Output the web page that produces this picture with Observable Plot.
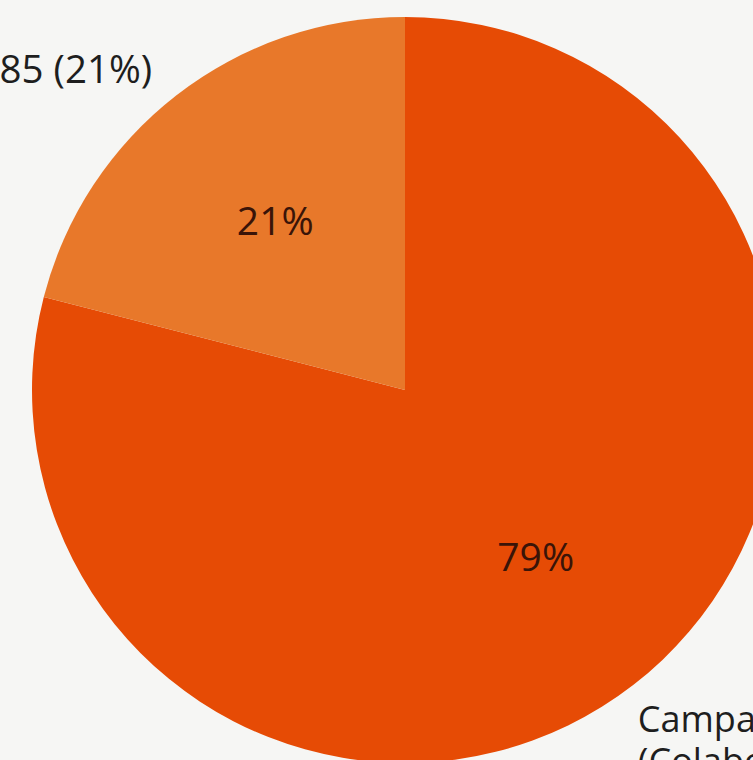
<!DOCTYPE html>
<html>
<head>
<meta charset="utf-8">
<script src="https://cdn.jsdelivr.net/npm/d3@7"></script>
<script src="https://cdn.jsdelivr.net/npm/@observablehq/plot@0.6"></script>
<style>
  html, body { margin: 0; padding: 0; background: #f6f6f4; overflow: hidden; }
  #chart { width: 753px; height: 760px; }
</style>
</head>
<body>
<div id="chart"></div>
<script>
// ---- data ----
const categories = ["Campaña (Colaboración)", "Otros"];
const counts = [320, 85];
const percentLabels = ["79%", "21%"];
const outerLabels = ["Campaña\n(Colaboración)", "85 (21%)"];
const colors = ["#e64b05", "#e8782a"];

// ---- derived table ----
const rows = categories.map((c, i) => ({
  category: c, count: counts[i], pct: percentLabels[i], outer: outerLabels[i], color: colors[i]
}));
const arcs = d3.pie().sort(null).value(d => d.count).startAngle(0).endAngle(2 * Math.PI)(rows);
const slices = arcs.map(a => {
  const mid = (a.startAngle + a.endAngle) / 2;
  return {
    ...a.data, startAngle: a.startAngle, endAngle: a.endAngle, mid,
    ix: 0.57 * Math.sin(mid), iy: 0.57 * Math.cos(mid),
    ox: 1.1 * Math.sin(mid), oy: 1.1 * Math.cos(mid)
  };
});

const font = "'Open Sans', 'Noto Sans', sans-serif";

// custom pie mark drawn through Plot's x/y scales
function pieMark(index, scales) {
  const cx = scales.x(0), cy = scales.y(0);
  const R = scales.x(1) - scales.x(0);
  const arc = d3.arc().innerRadius(0).outerRadius(R);
  const g = d3.create("svg:g").attr("transform", `translate(${cx},${cy})`);
  g.selectAll("path").data(slices).join("path")
    .attr("d", d => arc({startAngle: d.startAngle, endAngle: d.endAngle}))
    .attr("fill", d => d.color);
  return g.node();
}

const chart = Plot.plot({
  width: 753,
  height: 760,
  margin: 0,
  x: {domain: [-1, 1], range: [32, 778], axis: null},
  y: {domain: [-1, 1], range: [763, 17], axis: null},
  style: {background: "#f6f6f4", fontFamily: font, overflow: "hidden"},
  marks: [
    pieMark,
    Plot.text(slices, {
      x: "ix", y: "iy", text: "pct",
      fontSize: 39, fill: "#3a1408", fontFamily: font
    }),
    Plot.text(slices.filter(d => d.mid > Math.PI), {
      x: "ox", y: "oy", text: "outer",
      textAnchor: "end", fontSize: 38.5, fill: "#1e1e1e", dx: -2, dy: 4, fontFamily: font
    }),
    Plot.text(slices.filter(d => d.mid <= Math.PI), {
      x: "ox", y: "oy", text: "outer",
      textAnchor: "start", lineAnchor: "top", lineHeight: 1.17,
      fontSize: 36, fill: "#1e1e1e", dx: -19, dy: -13, fontFamily: font
    })
  ]
});
document.getElementById("chart").append(chart);
</script>
</body>
</html>
